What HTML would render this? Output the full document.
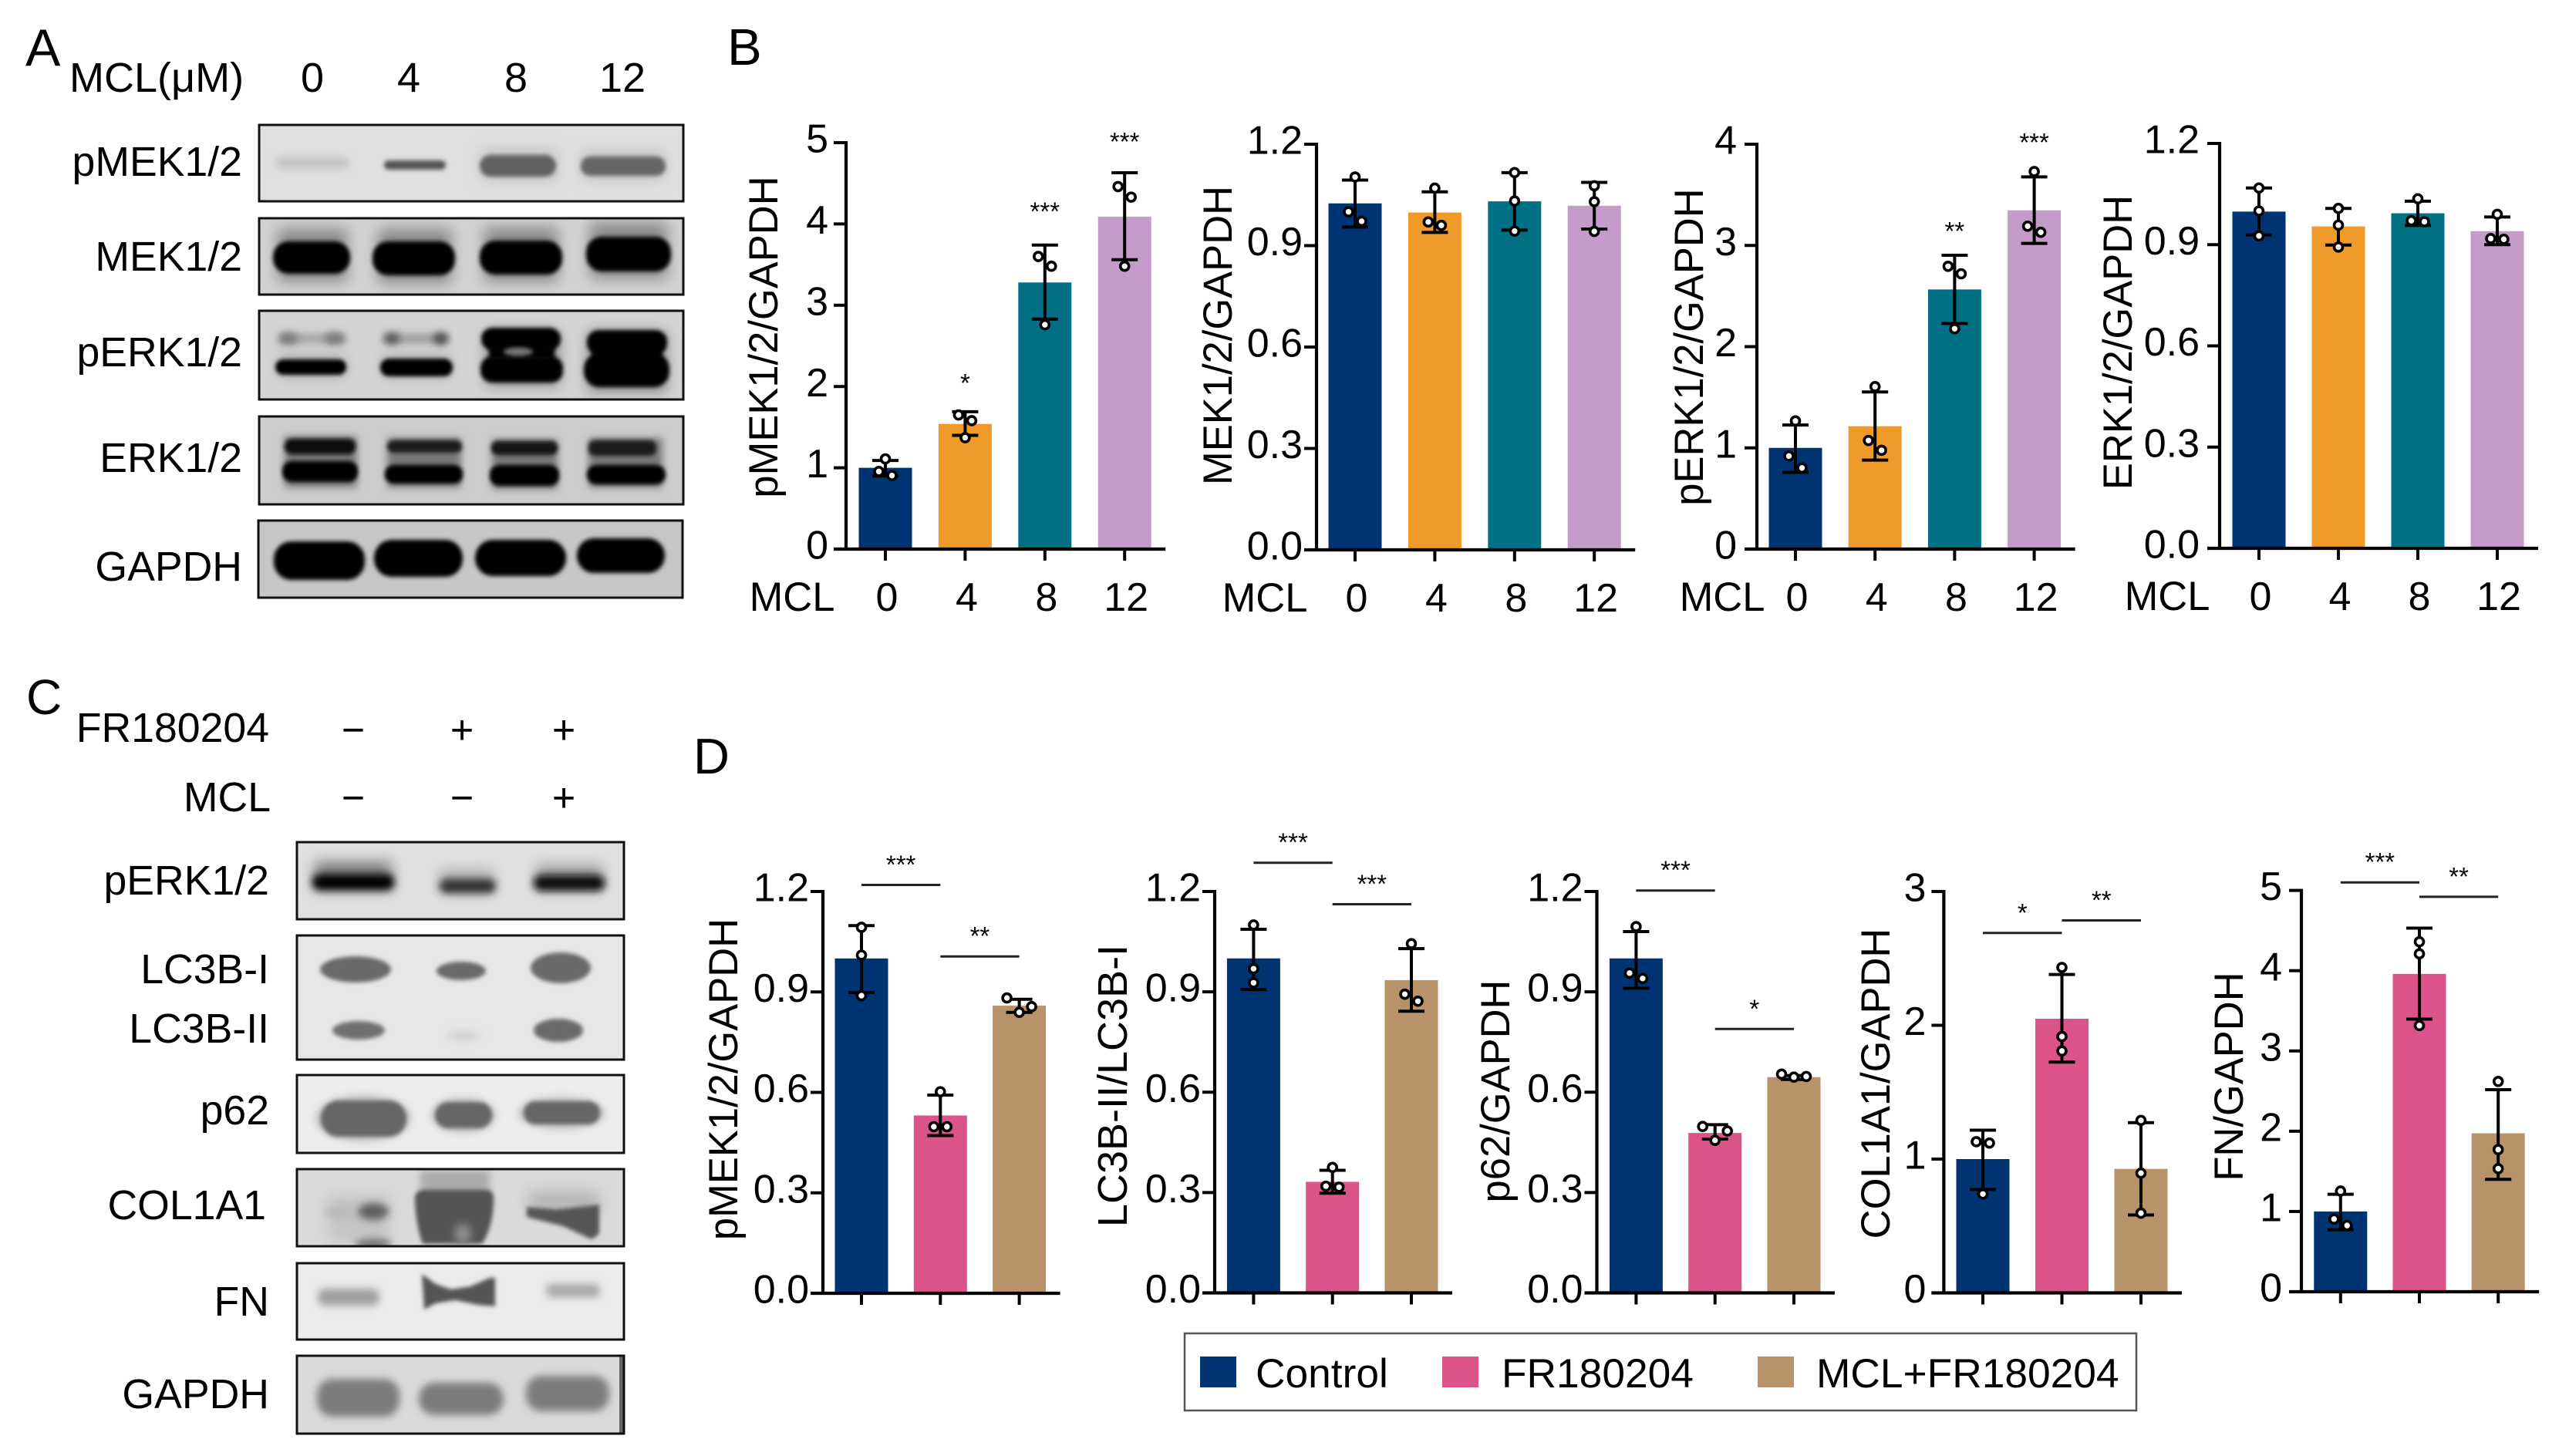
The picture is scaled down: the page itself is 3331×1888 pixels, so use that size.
<!DOCTYPE html>
<html lang="en">
<head>
<meta charset="utf-8">
<title>MCL western blots and quantification</title>
<style>
html,body{margin:0;padding:0;background:#fff;}
svg{display:block;}
text{font-family:"Liberation Sans",Arial,sans-serif;fill:#000;}
.b{filter:url(#blur);}
.s{filter:url(#soft);}
.h{filter:url(#halo);}
.f{fill:none;stroke:#111;stroke-width:3;}
.lbl{font-size:53.6px;text-anchor:end;}
.sign{font-size:52px;text-anchor:middle;}
.panel{font-size:66px;}
</style>
</head>
<body>
<svg id="figure" xmlns="http://www.w3.org/2000/svg" width="3331" height="1888" viewBox="0 0 3331 1888">
<defs>
<filter id="blur" x="-30%" y="-60%" width="160%" height="220%"><feGaussianBlur stdDeviation="2.6"/></filter>
<filter id="soft" x="-40%" y="-100%" width="180%" height="300%"><feGaussianBlur stdDeviation="5"/></filter>
<filter id="halo" x="-50%" y="-150%" width="200%" height="400%"><feGaussianBlur stdDeviation="9"/></filter>
<clipPath id="clip-a1"><rect x="336" y="162" width="550" height="99"/></clipPath>
<clipPath id="clip-a2"><rect x="336" y="283" width="550" height="99"/></clipPath>
<clipPath id="clip-a3"><rect x="336" y="403" width="550" height="115"/></clipPath>
<clipPath id="clip-a4"><rect x="336" y="540" width="550" height="114"/></clipPath>
<clipPath id="clip-a5"><rect x="335" y="675" width="550" height="100"/></clipPath>
<clipPath id="clip-c1"><rect x="385" y="1092" width="424" height="100"/></clipPath>
<clipPath id="clip-c2"><rect x="385" y="1213" width="424" height="161"/></clipPath>
<clipPath id="clip-c3"><rect x="385" y="1394" width="424" height="101"/></clipPath>
<clipPath id="clip-c4"><rect x="385" y="1516" width="424" height="100"/></clipPath>
<clipPath id="clip-c5"><rect x="385" y="1638" width="424" height="99"/></clipPath>
<clipPath id="clip-c6"><rect x="385" y="1758" width="424" height="101"/></clipPath>
</defs>
<rect width="3331" height="1888" fill="#fff"/>

<text class="panel" x="33" y="85" style="font-size:68px">A</text>
<text class="panel" x="943" y="84" style="font-size:67px">B</text>
<text class="panel" x="34" y="926" style="font-size:64px">C</text>
<text class="panel" x="899" y="1003" style="font-size:65px">D</text>

<!-- Panel A -->
<g>
<text x="90" y="119" style="font-size:54px">MCL(μM)</text>
<text x="405" y="119" style="font-size:54px" text-anchor="middle">0</text>
<text x="530" y="119" style="font-size:54px" text-anchor="middle">4</text>
<text x="669" y="119" style="font-size:54px" text-anchor="middle">8</text>
<text x="807" y="119" style="font-size:54px" text-anchor="middle">12</text>
<text class="lbl" x="314" y="228">pMEK1/2</text>
<text class="lbl" x="314" y="351">MEK1/2</text>
<text class="lbl" x="314" y="475">pERK1/2</text>
<text class="lbl" x="314" y="612">ERK1/2</text>
<text class="lbl" x="314" y="753">GAPDH</text>

<g clip-path="url(#clip-a1)">
<rect x="336" y="162" width="550" height="99" fill="#dfdfdf"/>
<rect class="h" x="625" y="196" width="96" height="36" fill="#bbb"/>
<rect class="h" x="755" y="198" width="106" height="32" fill="#bbb"/>
<rect class="s" x="358" y="204" width="94" height="14" rx="6" fill="#c2c2c2"/>
<rect class="b" x="498" y="208" width="80" height="12" rx="6" fill="#555"/>
<rect class="b" x="622" y="201" width="99" height="28" rx="14" fill="#626262"/>
<rect class="b" x="753" y="203" width="110" height="25" rx="12" fill="#666"/>
</g>
<rect class="f" x="336" y="162" width="550" height="99"/>

<g clip-path="url(#clip-a2)">
<rect x="336" y="283" width="550" height="99" fill="#d2d2d2"/>
<rect class="h" x="360" y="297" width="90" height="68" fill="#888"/>
<rect class="h" x="490" y="297" width="95" height="70" fill="#888"/>
<rect class="h" x="628" y="295" width="95" height="70" fill="#888"/>
<rect class="h" x="765" y="289" width="100" height="72" fill="#888"/>
<rect class="b" x="354" y="313" width="100" height="42" rx="20" fill="#000"/>
<rect class="b" x="483" y="313" width="107" height="44" rx="20" fill="#000"/>
<rect class="b" x="622" y="312" width="107" height="44" rx="20" fill="#000"/>
<rect class="b" x="760" y="307" width="110" height="45" rx="20" fill="#000"/>
</g>
<rect class="f" x="336" y="283" width="550" height="99"/>

<g clip-path="url(#clip-a3)">
<rect x="336" y="403" width="550" height="115" fill="#d4d4d4"/>
<rect class="s" x="362" y="433" width="84" height="12" fill="#a2a2a2"/>
<rect class="s" x="362" y="432" width="24" height="14" rx="7" fill="#777"/>
<rect class="s" x="421" y="432" width="26" height="14" rx="7" fill="#777"/>
<rect class="s" x="498" y="433" width="82" height="12" fill="#9a9a9a"/>
<rect class="s" x="498" y="432" width="20" height="14" rx="7" fill="#555"/>
<rect class="s" x="562" y="432" width="19" height="14" rx="7" fill="#444"/>
<rect class="h" x="362" y="462" width="86" height="26" fill="#aaa"/>
<rect class="h" x="496" y="462" width="88" height="26" fill="#aaa"/>
<rect class="b" x="357" y="466" width="92" height="20" rx="10" fill="#000"/>
<rect class="b" x="493" y="465" width="94" height="23" rx="11" fill="#000"/>
<rect class="h" x="630" y="430" width="95" height="70" fill="#888"/>
<rect class="h" x="762" y="430" width="102" height="78" fill="#888"/>
<rect class="b" x="624" y="425" width="103" height="29" rx="14" fill="#000"/>
<rect class="b" x="623" y="462" width="107" height="34" rx="15" fill="#000"/>
<rect class="b" x="634" y="448" width="85" height="18" fill="#000"/>
<ellipse class="b" cx="672" cy="456" rx="19" ry="5.5" fill="#777"/>
<rect class="b" x="761" y="428" width="104" height="32" rx="15" fill="#000"/>
<rect class="b" x="757" y="458" width="111" height="44" rx="20" fill="#000"/>
<rect class="b" x="768" y="450" width="90" height="16" fill="#000"/>
</g>
<rect class="f" x="336" y="403" width="550" height="115"/>

<g clip-path="url(#clip-a4)">
<rect x="336" y="540" width="550" height="114" fill="#cdcdcd"/>
<rect class="s" x="369" y="566" width="94" height="66" fill="#777"/>
<rect class="s" x="502" y="568" width="96" height="64" fill="#777"/>
<rect class="s" x="638" y="570" width="85" height="64" fill="#777"/>
<rect class="s" x="763" y="568" width="96" height="64" fill="#777"/>
<rect class="b" x="369" y="569" width="92" height="20" rx="9" fill="#0c0c0c"/>
<rect class="b" x="502" y="571" width="97" height="16" rx="8" fill="#1c1c1c"/>
<rect class="b" x="637" y="572" width="86" height="18" rx="8" fill="#141414"/>
<rect class="b" x="763" y="571" width="88" height="20" rx="8" fill="#1c1c1c"/>
<rect class="b" x="366" y="598" width="98" height="27" rx="12" fill="#000"/>
<rect class="b" x="499" y="603" width="101" height="24" rx="11" fill="#000"/>
<rect class="b" x="635" y="603" width="90" height="27" rx="12" fill="#000"/>
<rect class="b" x="761" y="603" width="102" height="25" rx="12" fill="#000"/>
</g>
<rect class="f" x="336" y="540" width="550" height="114"/>

<g clip-path="url(#clip-a5)">
<rect x="335" y="675" width="550" height="100" fill="#c6c6c6"/>
<rect class="b" x="355" y="702" width="118" height="50" rx="23" fill="#000"/>
<rect class="b" x="485" y="700" width="115" height="48" rx="23" fill="#000"/>
<rect class="b" x="616" y="700" width="118" height="47" rx="23" fill="#000"/>
<rect class="b" x="748" y="698" width="114" height="45" rx="22" fill="#000"/>
</g>
<rect class="f" x="335" y="675" width="550" height="100"/>
</g>

<!-- Panel C -->
<g>
<text class="lbl" x="349" y="962">FR180204</text>
<text class="lbl" x="351" y="1052">MCL</text>
<text class="sign" x="458" y="964">−</text>
<text class="sign" x="599" y="964">+</text>
<text class="sign" x="731" y="964">+</text>
<text class="sign" x="458" y="1052">−</text>
<text class="sign" x="599" y="1052">−</text>
<text class="sign" x="731" y="1052">+</text>
<text class="lbl" x="349" y="1160">pERK1/2</text>
<text class="lbl" x="349" y="1275">LC3B-I</text>
<text class="lbl" x="349" y="1352">LC3B-II</text>
<text class="lbl" x="349" y="1458">p62</text>
<text class="lbl" x="345" y="1581">COL1A1</text>
<text class="lbl" x="349" y="1706">FN</text>
<text class="lbl" x="349" y="1826">GAPDH</text>

<g clip-path="url(#clip-c1)">
<rect x="385" y="1092" width="424" height="100" fill="#e0e0e0"/>
<rect class="h" x="408" y="1118" width="100" height="36" fill="#777"/>
<rect class="h" x="570" y="1128" width="70" height="30" fill="#aaa"/>
<rect class="h" x="695" y="1122" width="86" height="32" fill="#999"/>
<rect class="s" x="405" y="1134" width="106" height="20" rx="9" fill="#000"/>
<rect class="s" x="570" y="1140" width="73" height="18" rx="9" fill="#333"/>
<rect class="s" x="692" y="1135" width="92" height="20" rx="9" fill="#0c0c0c"/>
</g>
<rect class="f" x="385" y="1092" width="424" height="100"/>

<g clip-path="url(#clip-c2)">
<rect x="385" y="1213" width="424" height="161" fill="#e7e7e7"/>
<ellipse class="b" cx="461" cy="1257" rx="46" ry="17" fill="#696969"/>
<ellipse class="b" cx="598" cy="1259" rx="32" ry="12" fill="#696969"/>
<ellipse class="b" cx="727" cy="1255" rx="39" ry="20" fill="#696969"/>
<ellipse class="b" cx="465" cy="1336" rx="34" ry="12" fill="#6f6f6f"/>
<ellipse class="s" cx="601" cy="1343" rx="22" ry="6" fill="#d0d0d0"/>
<ellipse class="b" cx="724" cy="1336" rx="32" ry="15" fill="#696969"/>
</g>
<rect class="f" x="385" y="1213" width="424" height="161"/>

<g clip-path="url(#clip-c3)">
<rect x="385" y="1394" width="424" height="101" fill="#ececec"/>
<ellipse class="s" cx="471" cy="1450" rx="62" ry="30" fill="#c0c0c0"/>
<ellipse class="s" cx="601" cy="1446" rx="42" ry="23" fill="#c0c0c0"/>
<ellipse class="s" cx="728" cy="1443" rx="56" ry="21" fill="#c0c0c0"/>
<rect class="b" x="416" y="1427" width="111" height="47" rx="23" fill="#666"/>
<rect class="b" x="564" y="1429" width="74" height="34" rx="17" fill="#666"/>
<rect class="b" x="679" y="1428" width="99" height="30" rx="15" fill="#666"/>
</g>
<rect class="f" x="385" y="1394" width="424" height="101"/>

<g clip-path="url(#clip-c4)">
<rect x="385" y="1516" width="424" height="100" fill="#dadada"/>
<rect class="h" x="425" y="1550" width="80" height="60" fill="#c4c4c4"/>
<ellipse class="s" cx="440" cy="1572" rx="20" ry="9" fill="#bbb"/>
<ellipse class="s" cx="484" cy="1571" rx="20" ry="11" fill="#5f5f5f"/>
<ellipse class="s" cx="484" cy="1613" rx="24" ry="7" fill="#6f6f6f"/>
<rect class="s" x="545" y="1518" width="90" height="40" fill="#aaa"/>
<path class="b" d="M538 1552 Q540 1543 550 1543 L630 1543 Q640 1543 640 1555 Q640 1590 625 1613 L548 1613 Q538 1585 538 1552Z" fill="#555"/>
<ellipse class="s" cx="600" cy="1600" rx="11" ry="13" fill="#8a8a8a"/>
<rect class="h" x="685" y="1545" width="92" height="25" fill="#b4b4b4"/>
<polygon class="b" points="683,1565 722,1568 777,1562 777,1600 767,1607 730,1590 683,1578" fill="#565656"/>
</g>
<rect class="f" x="385" y="1516" width="424" height="100"/>

<g clip-path="url(#clip-c5)">
<rect x="385" y="1638" width="424" height="99" fill="#ebebeb"/>
<rect class="s" x="412" y="1671" width="80" height="22" rx="9" fill="#a0a0a0"/>
<polygon class="b" points="547,1652 565,1665 585,1672 610,1668 635,1657 642,1657 642,1694 620,1692 590,1686 565,1690 550,1698" fill="#555"/>
<rect class="s" x="708" y="1665" width="70" height="17" rx="7" fill="#a8a8a8"/>
</g>
<rect class="f" x="385" y="1638" width="424" height="99"/>

<g clip-path="url(#clip-c6)">
<rect x="385" y="1758" width="424" height="101" fill="#dadada"/>
<rect x="803" y="1758" width="6" height="101" fill="#666"/>
<rect class="s" x="411" y="1788" width="107" height="49" rx="20" fill="#7c7c7c"/>
<rect class="s" x="543" y="1793" width="110" height="42" rx="20" fill="#7c7c7c"/>
<rect class="s" x="682" y="1784" width="108" height="46" rx="20" fill="#7c7c7c"/>
</g>
<rect class="f" x="385" y="1758" width="424" height="101"/>
</g>

<!-- Legend -->
<g>
<rect x="1536" y="1729" width="1234" height="100" fill="#fff" stroke="#555" stroke-width="2.5"/>
<rect x="1556" y="1759" width="47" height="40" fill="#003371"/>
<text x="1628" y="1799" style="font-size:53.3px">Control</text>
<rect x="1870" y="1759" width="47" height="40" fill="#dc528b"/>
<text x="1947" y="1799" style="font-size:53.3px">FR180204</text>
<rect x="2279" y="1759" width="47" height="40" fill="#b89268"/>
<text x="2355" y="1799" style="font-size:53.3px">MCL+FR180204</text>
</g>

<g id="charts"></g>
</svg>

<script>
/* ---------- shared categories and tick labels ---------- */
const doseCategories = ['0', '4', '8', '12'];
const groupCategories = ['Control', 'FR180204', 'MCL+FR180204'];
const ticks0to5 = ['0', '1', '2', '3', '4', '5'];
const ticks0to4 = ['0', '1', '2', '3', '4'];
const ticks0to3 = ['0', '1', '2', '3'];
const ticksRatio = ['0.0', '0.3', '0.6', '0.9', '1.2'];

/* ---------- panel B: pMEK1/2 ---------- */
const b1Means = [1.0, 1.54, 3.28, 4.09];
const b1Upper = [1.09, 1.69, 3.74, 4.63];
const b1Lower = [0.90, 1.40, 2.83, 3.56];
const b1Points = [[1.11, 0.955, 0.905], [1.65, 1.58, 1.37], [3.60, 3.48, 2.76], [4.46, 4.33, 3.48]];
const b1Stars = [[1, 2.095, '*'], [2, 4.206, '***'], [3, 5.065, '***']];

/* ---------- panel B: MEK1/2 ---------- */
const b2Means = [1.025, 0.998, 1.031, 1.018];
const b2Upper = [1.094, 1.059, 1.116, 1.087];
const b2Lower = [0.955, 0.939, 0.946, 0.949];
const b2Points = [[1.103, 1.0, 0.972], [1.07, 0.97, 0.96], [1.116, 1.032, 0.943], [1.077, 1.03, 0.942]];

/* ---------- panel B: pERK1/2 ---------- */
const b3Means = [1.0, 1.214, 2.565, 3.347];
const b3Upper = [1.226, 1.552, 2.903, 3.677];
const b3Lower = [0.758, 0.879, 2.23, 3.02];
const b3Points = [[1.266, 0.919, 0.802], [1.605, 1.073, 0.976], [2.794, 2.72, 2.177], [3.73, 3.19, 3.13]];
const b3Stars = [[2, 3.185, '**'], [3, 4.06, '***']];

/* ---------- panel B: ERK1/2 ---------- */
const b4Means = [0.998, 0.954, 0.993, 0.94];
const b4Upper = [1.068, 1.0075, 1.029, 0.982];
const b4Lower = [0.929, 0.899, 0.957, 0.90];
const b4Points = [[1.068, 1.0, 0.926], [1.0075, 0.958, 0.893], [1.036, 0.971, 0.968], [0.99, 0.918, 0.916]];

/* ---------- panel D: pMEK1/2 ---------- */
const d1Means = [1.0, 0.531, 0.859];
const d1Upper = [1.098, 0.592, 0.878];
const d1Lower = [0.898, 0.471, 0.839];
const d1Points = [[1.093, 1.01, 0.889], [0.602, 0.4975, 0.4975], [0.882, 0.856, 0.839]];
const d1Brackets = [[0, 1, 1.2195, '***'], [1, 2, 1.006, '**']];

/* ---------- panel D: LC3B-II/LC3B-I ---------- */
const d2Means = [1.0, 0.332, 0.935];
const d2Upper = [1.087, 0.3665, 1.029];
const d2Lower = [0.907, 0.298, 0.842];
const d2Points = [[1.10, 0.969, 0.927], [0.375, 0.319, 0.316], [1.044, 0.893, 0.872]];
const d2Brackets = [[0, 1, 1.286, '***'], [1, 2, 1.162, '***']];

/* ---------- panel D: p62 ---------- */
const d3Means = [1.0, 0.478, 0.645];
const d3Upper = [1.08, 0.503, 0.65];
const d3Lower = [0.911, 0.46, 0.638];
const d3Points = [[1.095, 0.956, 0.94], [0.4975, 0.484, 0.456], [0.654, 0.647, 0.645]];
const d3Brackets = [[0, 1, 1.203, '***'], [1, 2, 0.789, '*']];

/* ---------- panel D: COL1A1 ---------- */
const d4Means = [1.0, 2.049, 0.927];
const d4Upper = [1.216, 2.38, 1.272];
const d4Lower = [0.773, 1.725, 0.582];
const d4Points = [[1.13, 1.12, 0.739], [2.432, 1.916, 1.808], [1.289, 0.895, 0.596]];
const d4Brackets = [[0, 1, 2.69, '*'], [1, 2, 2.784, '**']];

/* ---------- panel D: FN ---------- */
const d5Means = [1.0, 3.96, 1.974];
const d5Upper = [1.214, 4.53, 2.517];
const d5Lower = [0.772, 3.397, 1.40];
const d5Points = [[1.254, 0.906, 0.825], [4.36, 4.21, 3.316], [2.62, 1.771, 1.533]];
const d5Brackets = [[0, 1, 5.1, '***'], [1, 2, 4.92, '**']];

const doseColors = ['#003371', '#f09a2a', '#007185', '#c49bc9'];
const groupColors = ['#003371', '#dc528b', '#b89268'];

const SVGNS = 'http://www.w3.org/2000/svg';
const root = document.getElementById('charts');

function add(parent, tag, attrs, name, text) {
  const el = document.createElementNS(SVGNS, tag);
  for (const k in attrs) el.setAttribute(k, attrs[k]);
  
  
  if (text !== undefined) el.textContent = text;
  parent.appendChild(el);
  return el;
}

function offsets(pixelYs) {
  /* Prism-style spreading: near-coincident points move sideways */
  const order = pixelYs.map((y, i) => [y, i]).sort((a, b) => a[0] - b[0]);
  const out = new Array(pixelYs.length).fill(0);
  let cluster = [];
  const flush = () => {
    if (cluster.length === 2) { out[cluster[0]] = -8.5; out[cluster[1]] = 8.5; }
    if (cluster.length >= 3) { out[cluster[0]] = -16; out[cluster[1]] = 16; out[cluster[2]] = 0; }
    cluster = [];
  };
  order.forEach((p, i) => {
    if (i > 0 && p[0] - order[i - 1][0] >= 15.5) flush();
    cluster.push(p[1]);
  });
  flush();
  return out;
}

function drawChart(c) {
  const g = add(root, 'g', {}, c.name);
  const yMax = parseFloat(c.tickLabels[c.tickLabels.length - 1]);
  const yScale = v => c.bottom - v / yMax * (c.bottom - c.top);
  const xScale = i => c.first + i * c.step;
  const n = c.categories.length;

  /* bars */
  c.means.forEach((m, i) => {
    add(g, 'rect', { x: xScale(i) - 34.5, y: yScale(m), width: 69, height: c.bottom - yScale(m), fill: c.colors[i] }, 'bar-' + c.categories[i]);
  });

  /* axes */
  add(g, 'line', { x1: c.axisX, x2: c.axisX, y1: c.top - 2, y2: c.bottom + 2, stroke: '#000', 'stroke-width': 4.2 }, 'y-axis');
  add(g, 'line', { x1: c.axisX - 16, x2: xScale(n - 1) + 53, y1: c.bottom, y2: c.bottom, stroke: '#000', 'stroke-width': 4.2 }, 'x-axis');

  c.tickLabels.forEach(t => {
    const v = parseFloat(t), y = yScale(v);
    add(g, 'line', { x1: c.axisX - 16, x2: c.axisX, y1: y, y2: y, stroke: '#000', 'stroke-width': 4 }, 'y-tick');
    add(g, 'text', { x: c.axisX - c.labelGap, y: y + 12.6, 'text-anchor': 'end', style: 'font-size:52px' }, 'y-tick-label', t);
  });

  c.categories.forEach((cat, i) => {
    add(g, 'line', { x1: xScale(i), x2: xScale(i), y1: c.bottom, y2: c.bottom + 15, stroke: '#000', 'stroke-width': 4 }, 'x-tick');
    if (c.showX) add(g, 'text', { x: xScale(i) + 2, y: c.bottom + 80, 'text-anchor': 'middle', style: 'font-size:52px' }, 'x-tick-label', cat);
  });
  if (c.showX) add(g, 'text', { x: c.mclX, y: c.bottom + 80, 'text-anchor': 'middle', style: 'font-size:52.5px' }, 'x-axis-title', 'MCL');

  /* y title */
  add(g, 'text', { transform: 'translate(' + c.titleX + ',' + c.titleY + ') rotate(-90)', 'text-anchor': 'middle', style: 'font-size:' + (c.titleSize || 52.5) + 'px' }, 'y-axis-title', c.title);

  /* error bars and points */
  c.means.forEach((m, i) => {
    const x = xScale(i), hi = yScale(c.upper[i]), lo = yScale(c.lower[i]);
    add(g, 'line', { x1: x, x2: x, y1: hi, y2: lo, stroke: '#000', 'stroke-width': 4 }, 'error-bar');
    add(g, 'line', { x1: x - 17, x2: x + 17, y1: hi, y2: hi, stroke: '#000', 'stroke-width': 4 }, 'error-cap-upper');
    add(g, 'line', { x1: x - 17, x2: x + 17, y1: lo, y2: lo, stroke: '#000', 'stroke-width': 4 }, 'error-cap-lower');
    const ys = c.points[i].map(yScale);
    const off = offsets(ys);
    ys.forEach((y, k) => {
      add(g, 'circle', { cx: x + off[k], cy: y, r: 5.5, fill: '#fff', stroke: '#000', 'stroke-width': 3.6 }, 'data-point');
    });
  });

  /* significance */
  (c.stars || []).forEach(s => {
    add(g, 'text', { x: xScale(s[0]), y: yScale(s[1]) + 17, 'text-anchor': 'middle', style: 'font-size:33px' }, 'significance-label', s[2]);
  });
  (c.brackets || []).forEach(b => {
    const y = yScale(b[2]);
    add(g, 'line', { x1: xScale(b[0]), x2: xScale(b[1]), y1: y, y2: y, stroke: '#222', 'stroke-width': 3 }, 'significance-bracket');
    add(g, 'text', { x: (xScale(b[0]) + xScale(b[1])) / 2, y: y - 15, 'text-anchor': 'middle', style: 'font-size:33px' }, 'significance-label', b[3]);
  });
}

drawChart({ name: 'chart-pmek', title: 'pMEK1/2/GAPDH', categories: doseCategories, tickLabels: ticks0to5, colors: doseColors, means: b1Means, upper: b1Upper, lower: b1Lower, points: b1Points, stars: b1Stars, axisX: 1097, top: 185, bottom: 712, first: 1148, step: 103.4, labelGap: 23, titleX: 1008, titleY: 437, showX: true, mclX: 1027 });
drawChart({ name: 'chart-mek', title: 'MEK1/2/GAPDH', categories: doseCategories, tickLabels: ticksRatio, colors: doseColors, means: b2Means, upper: b2Upper, lower: b2Lower, points: b2Points, axisX: 1707, top: 187, bottom: 713, first: 1757, step: 103.4, labelGap: 18, titleX: 1597, titleY: 435, showX: true, mclX: 1640 });
drawChart({ name: 'chart-perk', title: 'pERK1/2/GAPDH', categories: doseCategories, tickLabels: ticks0to4, colors: doseColors, means: b3Means, upper: b3Upper, lower: b3Lower, points: b3Points, stars: b3Stars, axisX: 2278, top: 187, bottom: 712, first: 2328, step: 103.2, labelGap: 26, titleX: 2208, titleY: 450, showX: true, mclX: 2233 });
drawChart({ name: 'chart-erk', title: 'ERK1/2/GAPDH', categories: doseCategories, tickLabels: ticksRatio, colors: doseColors, means: b4Means, upper: b4Upper, lower: b4Lower, points: b4Points, axisX: 2878, top: 186, bottom: 711, first: 2929, step: 103, labelGap: 26, titleX: 2764, titleY: 444, showX: true, mclX: 2810 });

drawChart({ name: 'chart-d-pmek', title: 'pMEK1/2/GAPDH', categories: groupCategories, tickLabels: ticksRatio, colors: groupColors, means: d1Means, upper: d1Upper, lower: d1Lower, points: d1Points, brackets: d1Brackets, axisX: 1067, top: 1156, bottom: 1677, first: 1117, step: 102.3, labelGap: 18, titleX: 956, titleY: 1399.5 });
drawChart({ name: 'chart-d-lc3b', title: 'LC3B-II/LC3B-I', categories: groupCategories, tickLabels: ticksRatio, colors: groupColors, means: d2Means, upper: d2Upper, lower: d2Lower, points: d2Points, brackets: d2Brackets, axisX: 1575, top: 1156, bottom: 1676.5, first: 1625.4, step: 102.3, labelGap: 18, titleX: 1461, titleY: 1408, titleSize: 54 });
drawChart({ name: 'chart-d-p62', title: 'p62/GAPDH', categories: groupCategories, tickLabels: ticksRatio, colors: groupColors, means: d3Means, upper: d3Upper, lower: d3Lower, points: d3Points, brackets: d3Brackets, axisX: 2070.5, top: 1156, bottom: 1676.5, first: 2121.4, step: 102.3, labelGap: 18, titleX: 1957, titleY: 1415 });
drawChart({ name: 'chart-d-col1a1', title: 'COL1A1/GAPDH', categories: groupCategories, tickLabels: ticks0to3, colors: groupColors, means: d4Means, upper: d4Upper, lower: d4Lower, points: d4Points, brackets: d4Brackets, axisX: 2520.4, top: 1156, bottom: 1676.5, first: 2571, step: 102.5, labelGap: 23, titleX: 2450, titleY: 1405 });
drawChart({ name: 'chart-d-fn', title: 'FN/GAPDH', categories: groupCategories, tickLabels: ticks0to5, colors: groupColors, means: d5Means, upper: d5Upper, lower: d5Lower, points: d5Points, brackets: d5Brackets, axisX: 2984, top: 1154.6, bottom: 1675, first: 3034.8, step: 102.2, labelGap: 25, titleX: 2908, titleY: 1396 });
</script>
</body>
</html>
